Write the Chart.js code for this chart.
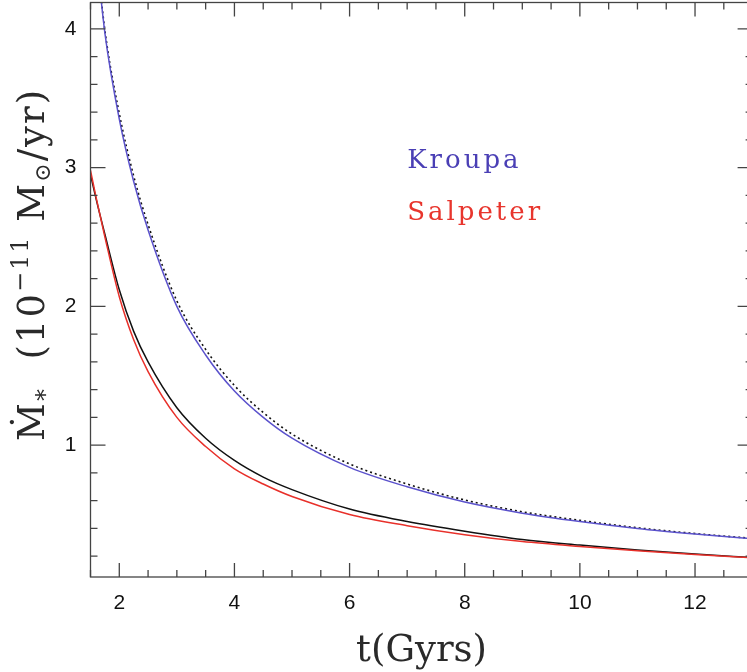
<!DOCTYPE html>
<html>
<head>
<meta charset="utf-8">
<script src="https://cdn.jsdelivr.net/npm/chart.js@4.4.1/dist/chart.umd.min.js"></script>
<style>
    body { margin: 0; background: #fff; overflow: hidden; }
    #wrap { width: 747px; height: 672px; overflow: hidden; }
</style>
</head>
<body>
<div id="wrap"><canvas id="sfrChart" width="756" height="672"></canvas></div>
<script>
// time in Gyrs
const tValues = [1.5, 1.6, 1.75, 2, 2.25, 2.5, 3, 3.5, 4, 4.5, 5, 6, 7, 8, 9, 10, 11, 12, 13];
// Mdot_* in 1e-11 Msun/yr
const kroupa = [4.95, 4.55, 3.97, 3.35, 2.9, 2.55, 2.0, 1.65, 1.39, 1.2, 1.05, 0.84, 0.70, 0.59, 0.51, 0.45, 0.40, 0.36, 0.325];
const kroupaFit = [4.95, 4.56, 3.99, 3.39, 2.94, 2.59, 2.04, 1.69, 1.43, 1.235, 1.08, 0.865, 0.72, 0.605, 0.52, 0.458, 0.405, 0.363, 0.328];
const salpeter = [2.98, 2.78, 2.5, 2.07, 1.76, 1.53, 1.2, 0.99, 0.83, 0.72, 0.63, 0.5, 0.42, 0.355, 0.305, 0.27, 0.24, 0.212, 0.188];
const salpeterFit = [2.95, 2.77, 2.52, 2.12, 1.82, 1.6, 1.27, 1.05, 0.89, 0.77, 0.68, 0.54, 0.45, 0.38, 0.32, 0.28, 0.245, 0.215, 0.19];

const xMajorLabels = [2, 4, 6, 8, 10, 12];
const yMajorLabels = [1, 2, 3, 4];
const legendNames = ['Kroupa', 'Salpeter'];

function toPoints(ys) {
    let pts = [];
    for (let i = 0; i < tValues.length; i++) {
        pts.push({ x: tValues[i], y: ys[i] });
    }
    return pts;
}

function isStep(v, step) {
    return Math.abs(v / step - Math.round(v / step)) < 1e-6;
}

// inward tick marks on all four sides plus the frame
const frameTicks = {
    id: 'frameTicks',
    afterDatasetsDraw(chart) {
        const ctx = chart.ctx;
        const a = chart.chartArea;
        const xs = chart.scales.x;
        const ys = chart.scales.y;
        ctx.save();
        ctx.strokeStyle = '#444';
        ctx.lineWidth = 1.3;
        ctx.beginPath();
        for (let v = 1.5; v <= 13.0001; v += 0.5) {
            const px = xs.getPixelForValue(v);
            const major = xMajorLabels.some(m => Math.abs(m - v) < 1e-6);
            const len = major ? 14 : 7;
            ctx.moveTo(px, a.bottom); ctx.lineTo(px, a.bottom - len);
            ctx.moveTo(px, a.top); ctx.lineTo(px, a.top + len);
        }
        for (let v = 0.2; v <= ys.max; v += 0.2) {
            const py = ys.getPixelForValue(v);
            const major = yMajorLabels.some(m => Math.abs(m - v) < 1e-6);
            const len = major ? 15 : 7;
            ctx.moveTo(a.left, py); ctx.lineTo(a.left + len, py);
            ctx.moveTo(a.right, py); ctx.lineTo(a.right - len, py);
        }
        ctx.stroke();
        ctx.strokeRect(a.left, a.top, a.right - a.left, a.bottom - a.top);
        ctx.restore();
    }
};

// axis titles and the in-plot legend text
const labelsPlugin = {
    id: 'labelsPlugin',
    afterDraw(chart) {
        const ctx = chart.ctx;
        const a = chart.chartArea;
        const xs = chart.scales.x;
        const ys = chart.scales.y;
        ctx.save();
        ctx.fillStyle = '#2a2a2a';
        ctx.textBaseline = 'alphabetic';

        ctx.font = '37px "DejaVu Serif"';
        ctx.textAlign = 'center';
        ctx.fillText('t(Gyrs)', (a.left + a.right) / 2, 661);

        ctx.textAlign = 'left';
        ctx.translate(44, 441);
        ctx.rotate(-Math.PI / 2);
        ctx.letterSpacing = '2px';
        const parts = [
            ['Ṁ', 37, 0], ['*', 24, 9], ['  (10', 37, 0], ['−11', 24, -16],
            [' M', 37, 0], ['⊙', 22, 6], ['/yr)', 37, 0]
        ];
        let x = 0;
        for (const p of parts) {
            ctx.font = p[1] + 'px "DejaVu Serif"';
            ctx.fillText(p[0], x, p[2]);
            x += ctx.measureText(p[0]).width;
        }
        ctx.restore();

        ctx.save();
        ctx.font = '26px "DejaVu Serif"';
        ctx.letterSpacing = '3px';
        ctx.textAlign = 'left';
        ctx.fillStyle = '#4a3fb5';
        ctx.fillText(legendNames[0], xs.getPixelForValue(7), ys.getPixelForValue(3.0));
        ctx.fillStyle = '#e8352d';
        ctx.fillText(legendNames[1], xs.getPixelForValue(7), ys.getPixelForValue(2.62));
        ctx.restore();
    }
};

const tickFont = { family: '"Liberation Sans", Arial, sans-serif', size: 21 };

const config = {
    type: 'line',
    data: {
        datasets: [
            {
                label: 'Kroupa',
                data: toPoints(kroupa),
                borderColor: '#5b52cc',
                borderWidth: 1.5
            },
            {
                label: 'Kroupa fit',
                data: toPoints(kroupaFit),
                borderColor: '#111',
                borderWidth: 1.6,
                borderDash: [2, 3]
            },
            {
                label: 'Salpeter',
                data: toPoints(salpeter),
                borderColor: '#e8302a',
                borderWidth: 1.5
            },
            {
                label: 'Salpeter fit',
                data: toPoints(salpeterFit),
                borderColor: '#111',
                borderWidth: 1.5
            }
        ]
    },
    options: {
        responsive: false,
        animation: false,
        devicePixelRatio: 1,
        layout: {
            autoPadding: false,
            padding: { left: 0, top: 2.5, right: 3.4, bottom: 0 }
        },
        elements: {
            point: { radius: 0 },
            line: { cubicInterpolationMode: 'monotone', fill: false }
        },
        plugins: {
            legend: { display: false },
            tooltip: { enabled: false }
        },
        scales: {
            x: {
                type: 'linear',
                min: 1.5,
                max: 13,
                afterFit: (scale) => {
                    scale.height = 95;
                    scale.paddingLeft = 0;
                    scale.paddingRight = 0;
                },
                grid: { display: false, drawTicks: false },
                border: { display: false },
                ticks: {
                    stepSize: 0.5,
                    autoSkip: false,
                    maxRotation: 0,
                    padding: 14,
                    color: '#111',
                    font: tickFont,
                    callback: (v) => xMajorLabels.includes(Math.round(v)) && isStep(v, 1) ? String(Math.round(v)) : ''
                }
            },
            y: {
                type: 'linear',
                min: 0.05,
                max: 4.19,
                afterFit: (scale) => {
                    scale.width = 90.5;
                    scale.paddingTop = 0;
                    scale.paddingBottom = 0;
                },
                grid: { display: false, drawTicks: false },
                border: { display: false },
                ticks: {
                    stepSize: 0.2,
                    autoSkip: false,
                    padding: 14,
                    color: '#111',
                    font: tickFont,
                    callback: (v) => yMajorLabels.includes(Math.round(v)) && isStep(v, 1) ? String(Math.round(v)) : ''
                }
            }
        }
    },
    plugins: [frameTicks, labelsPlugin]
};

const ctx = document.getElementById('sfrChart');
const sfrChart = new Chart(ctx, config);
</script>
</body>
</html>
